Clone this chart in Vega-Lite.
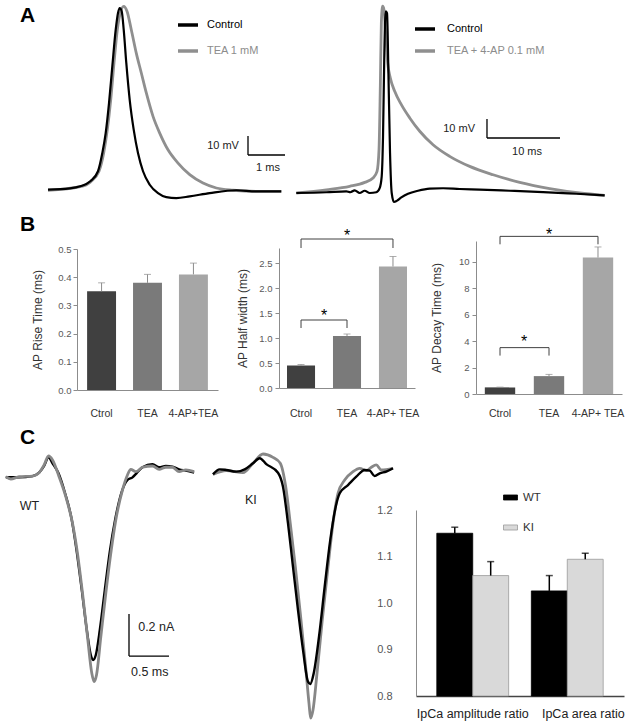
{
"$schema": "https://vega.github.io/schema/vega-lite/v6.json",
"padding": 0,
"background": "white",
"config": {
  "view": {"stroke": null},
  "font": "Liberation Sans",
  "axis": {"grid": false, "labelFont": "Liberation Sans", "titleFont": "Liberation Sans", "labelOverlap": false},
  "legend": {"labelFont": "Liberation Sans"},
  "title": {"font": "Liberation Sans"},
  "text": {"font": "Liberation Sans"}
},
"datasets": {
  "a1": [
    {"cond":"Control","t":0,"v":-64.3},{"cond":"Control","t":0.586,"v":-63.6},{"cond":"Control","t":0.873,"v":-62.5},{"cond":"Control","t":1.143,"v":-59.9},{"cond":"Control","t":1.351,"v":-54.6},{"cond":"Control","t":1.468,"v":-45.0},{"cond":"Control","t":1.559,"v":-34.5},{"cond":"Control","t":1.649,"v":-18.7},{"cond":"Control","t":1.738,"v":0.6},{"cond":"Control","t":1.830,"v":19.9},{"cond":"Control","t":1.892,"v":28.7},{"cond":"Control","t":1.938,"v":31.3},{"cond":"Control","t":1.992,"v":29.6},{"cond":"Control","t":2.046,"v":19.9},{"cond":"Control","t":2.116,"v":2.4},{"cond":"Control","t":2.208,"v":-17.0},{"cond":"Control","t":2.316,"v":-32.7},{"cond":"Control","t":2.432,"v":-45.0},{"cond":"Control","t":2.568,"v":-54.6},{"cond":"Control","t":2.749,"v":-61.7},{"cond":"Control","t":2.973,"v":-66.1},{"cond":"Control","t":3.197,"v":-68.2},{"cond":"Control","t":3.468,"v":-68.7},{"cond":"Control","t":3.830,"v":-67.8},{"cond":"Control","t":4.370,"v":-66.1},{"cond":"Control","t":5.089,"v":-64.6},{"cond":"Control","t":5.630,"v":-65.2},{"cond":"Control","t":6.305,"v":-65.2},
    {"cond":"TEA 1 mM","t":0,"v":-64.6},{"cond":"TEA 1 mM","t":0.873,"v":-62.7},{"cond":"TEA 1 mM","t":1.143,"v":-60.3},{"cond":"TEA 1 mM","t":1.378,"v":-54.6},{"cond":"TEA 1 mM","t":1.505,"v":-45.0},{"cond":"TEA 1 mM","t":1.603,"v":-32.7},{"cond":"TEA 1 mM","t":1.695,"v":-17.0},{"cond":"TEA 1 mM","t":1.784,"v":2.4},{"cond":"TEA 1 mM","t":1.873,"v":19.9},{"cond":"TEA 1 mM","t":1.954,"v":28.7},{"cond":"TEA 1 mM","t":2.046,"v":32.2},{"cond":"TEA 1 mM","t":2.135,"v":29.6},{"cond":"TEA 1 mM","t":2.251,"v":19.9},{"cond":"TEA 1 mM","t":2.386,"v":7.6},{"cond":"TEA 1 mM","t":2.522,"v":-2.9},{"cond":"TEA 1 mM","t":2.657,"v":-13.4},{"cond":"TEA 1 mM","t":2.838,"v":-25.7},{"cond":"TEA 1 mM","t":3.019,"v":-34.5},{"cond":"TEA 1 mM","t":3.243,"v":-43.3},{"cond":"TEA 1 mM","t":3.514,"v":-50.3},{"cond":"TEA 1 mM","t":3.830,"v":-56.4},{"cond":"TEA 1 mM","t":4.189,"v":-60.8},{"cond":"TEA 1 mM","t":4.549,"v":-63.4},{"cond":"TEA 1 mM","t":5.0,"v":-64.6},{"cond":"TEA 1 mM","t":5.630,"v":-65.2},{"cond":"TEA 1 mM","t":6.305,"v":-65.2}
  ],
  "a2": [
    {"cond":"Control","t":0.04,"v":-65},{"cond":"Control","t":4.15,"v":-64.6},{"cond":"Control","t":6.89,"v":-64.1},{"cond":"Control","t":7.44,"v":-64.6},{"cond":"Control","t":8.04,"v":-63.6},{"cond":"Control","t":8.72,"v":-65},{"cond":"Control","t":9.41,"v":-63.8},{"cond":"Control","t":10.10,"v":-65},{"cond":"Control","t":11.0,"v":-64.6},{"cond":"Control","t":11.46,"v":-62.4},{"cond":"Control","t":11.74,"v":-56.2},{"cond":"Control","t":11.92,"v":-35.2},{"cond":"Control","t":12.10,"v":8.7},{"cond":"Control","t":12.28,"v":30.6},{"cond":"Control","t":12.47,"v":29.7},{"cond":"Control","t":12.65,"v":-0.1},{"cond":"Control","t":12.88,"v":-43.9},{"cond":"Control","t":13.11,"v":-65},{"cond":"Control","t":13.42,"v":-69.7},{"cond":"Control","t":13.84,"v":-69.0},{"cond":"Control","t":14.43,"v":-67.3},{"cond":"Control","t":15.34,"v":-65.4},{"cond":"Control","t":16.71,"v":-63.8},{"cond":"Control","t":18.32,"v":-62.7},{"cond":"Control","t":20.14,"v":-62.5},{"cond":"Control","t":22.42,"v":-62.9},{"cond":"Control","t":25.16,"v":-63.2},{"cond":"Control","t":29.27,"v":-63.8},{"cond":"Control","t":33.84,"v":-64.5},{"cond":"Control","t":38.40,"v":-65.4},{"cond":"Control","t":42.28,"v":-66.2},
    {"cond":"TEA + 4-AP 0.1 mM","t":0.04,"v":-65},{"cond":"TEA + 4-AP 0.1 mM","t":4.15,"v":-63.3},{"cond":"TEA + 4-AP 0.1 mM","t":7.35,"v":-61.5},{"cond":"TEA + 4-AP 0.1 mM","t":9.41,"v":-59.4},{"cond":"TEA + 4-AP 0.1 mM","t":10.55,"v":-57.1},{"cond":"TEA + 4-AP 0.1 mM","t":11.10,"v":-53.6},{"cond":"TEA + 4-AP 0.1 mM","t":11.37,"v":-42.2},{"cond":"TEA + 4-AP 0.1 mM","t":11.55,"v":-8.8},{"cond":"TEA + 4-AP 0.1 mM","t":11.69,"v":24.5},{"cond":"TEA + 4-AP 0.1 mM","t":11.87,"v":33.3},{"cond":"TEA + 4-AP 0.1 mM","t":12.05,"v":31.5},{"cond":"TEA + 4-AP 0.1 mM","t":12.28,"v":19.2},{"cond":"TEA + 4-AP 0.1 mM","t":12.56,"v":3.4},{"cond":"TEA + 4-AP 0.1 mM","t":12.92,"v":-4.5},{"cond":"TEA + 4-AP 0.1 mM","t":13.52,"v":-11.5},{"cond":"TEA + 4-AP 0.1 mM","t":14.43,"v":-18.5},{"cond":"TEA + 4-AP 0.1 mM","t":15.58,"v":-25.5},{"cond":"TEA + 4-AP 0.1 mM","t":16.95,"v":-32.5},{"cond":"TEA + 4-AP 0.1 mM","t":18.77,"v":-39.6},{"cond":"TEA + 4-AP 0.1 mM","t":21.05,"v":-45.7},{"cond":"TEA + 4-AP 0.1 mM","t":23.79,"v":-51.0},{"cond":"TEA + 4-AP 0.1 mM","t":27.0,"v":-55.4},{"cond":"TEA + 4-AP 0.1 mM","t":30.64,"v":-59.4},{"cond":"TEA + 4-AP 0.1 mM","t":34.75,"v":-62.7},{"cond":"TEA + 4-AP 0.1 mM","t":38.86,"v":-65},{"cond":"TEA + 4-AP 0.1 mM","t":42.28,"v":-66.2}
  ],
  "c1": [
    {"g":"gray","t":0,"i":0},{"g":"gray","t":0.0625,"i":-0.011},{"g":"gray","t":0.166,"i":0},{"g":"gray","t":0.334,"i":0.003},{"g":"gray","t":0.416,"i":0.019},{"g":"gray","t":0.479,"i":0.056},{"g":"gray","t":0.534,"i":0.099},{"g":"gray","t":0.584,"i":0.080},{"g":"gray","t":0.666,"i":0},{"g":"gray","t":0.75,"i":-0.095},{"g":"gray","t":0.834,"i":-0.222},{"g":"gray","t":0.896,"i":-0.365},{"g":"gray","t":0.959,"i":-0.555},{"g":"gray","t":1.021,"i":-0.762},{"g":"gray","t":1.075,"i":-0.936},{"g":"gray","t":1.104,"i":-0.976},{"g":"gray","t":1.134,"i":-0.944},{"g":"gray","t":1.188,"i":-0.762},{"g":"gray","t":1.25,"i":-0.555},{"g":"gray","t":1.3125,"i":-0.365},{"g":"gray","t":1.375,"i":-0.206},{"g":"gray","t":1.459,"i":-0.063},{"g":"gray","t":1.521,"i":0.008},{"g":"gray","t":1.5625,"i":0.035},{"g":"gray","t":1.625,"i":0.024},{"g":"gray","t":1.709,"i":0.045},{"g":"gray","t":1.834,"i":0.051},{"g":"gray","t":1.916,"i":0.035},{"g":"gray","t":2.0,"i":0.045},{"g":"gray","t":2.084,"i":0.045},{"g":"gray","t":2.166,"i":0.024},{"g":"gray","t":2.25,"i":0.032},{"g":"gray","t":2.354,"i":0.024},
    {"g":"black","t":0,"i":-0.003},{"g":"black","t":0.166,"i":-0.003},{"g":"black","t":0.334,"i":0.003},{"g":"black","t":0.416,"i":0.019},{"g":"black","t":0.479,"i":0.051},{"g":"black","t":0.534,"i":0.092},{"g":"black","t":0.584,"i":0.064},{"g":"black","t":0.659,"i":0.016},{"g":"black","t":0.741,"i":-0.079},{"g":"black","t":0.825,"i":-0.206},{"g":"black","t":0.884,"i":-0.349},{"g":"black","t":0.95,"i":-0.540},{"g":"black","t":1.0125,"i":-0.730},{"g":"black","t":1.0625,"i":-0.849},{"g":"black","t":1.091,"i":-0.873},{"g":"black","t":1.125,"i":-0.849},{"g":"black","t":1.175,"i":-0.730},{"g":"black","t":1.2375,"i":-0.540},{"g":"black","t":1.3,"i":-0.357},{"g":"black","t":1.366,"i":-0.206},{"g":"black","t":1.45,"i":-0.071},{"g":"black","t":1.521,"i":-0.016},{"g":"black","t":1.584,"i":-0.003},{"g":"black","t":1.634,"i":0.016},{"g":"black","t":1.709,"i":0.045},{"g":"black","t":1.834,"i":0.060},{"g":"black","t":1.916,"i":0.045},{"g":"black","t":2.0,"i":0.051},{"g":"black","t":2.084,"i":0.048},{"g":"black","t":2.166,"i":0.035},{"g":"black","t":2.25,"i":0.029},{"g":"black","t":2.354,"i":0.019}
  ],
  "c2": [
    {"g":"black","t":0,"i":0.011},{"g":"black","t":0.084,"i":0.035},{"g":"black","t":0.166,"i":0.032},{"g":"black","t":0.291,"i":0.024},{"g":"black","t":0.396,"i":0.035},{"g":"black","t":0.5,"i":0.064},{"g":"black","t":0.584,"i":0.088},{"g":"black","t":0.666,"i":0.060},{"g":"black","t":0.8125,"i":0.019},{"g":"black","t":0.875,"i":-0.048},{"g":"black","t":0.9375,"i":-0.222},{"g":"black","t":1.0,"i":-0.429},{"g":"black","t":1.0625,"i":-0.635},{"g":"black","t":1.125,"i":-0.825},{"g":"black","t":1.1875,"i":-0.976},{"g":"black","t":1.216,"i":-0.987},{"g":"black","t":1.259,"i":-0.936},{"g":"black","t":1.325,"i":-0.762},{"g":"black","t":1.396,"i":-0.524},{"g":"black","t":1.466,"i":-0.301},{"g":"black","t":1.534,"i":-0.143},{"g":"black","t":1.584,"i":-0.079},{"g":"black","t":1.6875,"i":-0.040},{"g":"black","t":1.791,"i":0},{"g":"black","t":1.896,"i":0.032},{"g":"black","t":1.959,"i":0.029},{"g":"black","t":2.021,"i":0.003},{"g":"black","t":2.084,"i":0.016},{"g":"black","t":2.166,"i":0.024},{"g":"black","t":2.25,"i":0.040},
    {"g":"gray","t":0,"i":0.011},{"g":"gray","t":0.166,"i":0.029},{"g":"gray","t":0.375,"i":0.019},{"g":"gray","t":0.5,"i":0.064},{"g":"gray","t":0.625,"i":0.108},{"g":"gray","t":0.75,"i":0.092},{"g":"gray","t":0.841,"i":0.064},{"g":"gray","t":0.909,"i":-0.048},{"g":"gray","t":0.966,"i":-0.222},{"g":"gray","t":1.029,"i":-0.429},{"g":"gray","t":1.091,"i":-0.650},{"g":"gray","t":1.154,"i":-0.889},{"g":"gray","t":1.2,"i":-1.079},{"g":"gray","t":1.221,"i":-1.150},{"g":"gray","t":1.25,"i":-1.111},{"g":"gray","t":1.3,"i":-0.936},{"g":"gray","t":1.366,"i":-0.682},{"g":"gray","t":1.4375,"i":-0.429},{"g":"gray","t":1.5,"i":-0.222},{"g":"gray","t":1.5625,"i":-0.079},{"g":"gray","t":1.646,"i":-0.016},{"g":"gray","t":1.75,"i":0.024},{"g":"gray","t":1.834,"i":0.040},{"g":"gray","t":1.916,"i":0.029},{"g":"gray","t":1.979,"i":0.045},{"g":"gray","t":2.041,"i":0.056},{"g":"gray","t":2.104,"i":0.032},{"g":"gray","t":2.25,"i":0.040}
  ]
},
"spacing": 7,
"resolve": {"scale": {"color": "independent", "stroke": "independent"}, "legend": {"color": "independent"}},
"vconcat": [
  {
    "hconcat": [
      {
        "width": 285, "height": 196,
        "title": {"text": "A", "anchor": "start", "frame": "group", "fontSize": 21, "fontWeight": "bold", "baseline": "alphabetic", "offset": -42, "dx": 17, "color": "#000"},
        "encoding": {
          "x": {"field": "t", "type": "quantitative", "scale": {"domain": [-1.216, 6.486], "nice": false, "zero": false}, "axis": null},
          "y": {"field": "v", "type": "quantitative", "scale": {"domain": [-69.2, 33.95], "nice": false, "zero": false}, "axis": null}
        },
        "layer": [
          {"data": {"name": "a1"}, "transform": [{"filter": "datum.cond !== 'Control'"}],
           "mark": {"type": "line", "strokeWidth": 2.8, "interpolate": "monotone"},
           "encoding": {"color": {"field": "cond", "type": "nominal", "scale": {"domain": ["Control", "TEA 1 mM"], "range": ["#000000", "#8f8f8f"]},
             "legend": {"orient": "none", "legendX": 173, "legendY": 10, "title": null, "symbolType": "stroke", "symbolSize": 400, "symbolStrokeWidth": 3.5, "labelFontSize": 11, "labelOffset": 7, "rowPadding": 7, "padding": 0,
               "encode": {"labels": {"update": {"fill": {"signal": "datum.value === 'Control' ? '#000000' : '#8c8c8c'"}}}}}}}},
          {"data": {"name": "a1"}, "transform": [{"filter": "datum.cond === 'Control'"}],
           "mark": {"type": "line", "strokeWidth": 2.2, "interpolate": "monotone"},
           "encoding": {"color": {"field": "cond", "type": "nominal", "scale": {"domain": ["Control", "TEA 1 mM"], "range": ["#000000", "#8f8f8f"]},
             "legend": {"orient": "none", "legendX": 173, "legendY": 10, "title": null, "symbolType": "stroke", "symbolSize": 400, "symbolStrokeWidth": 3.5, "labelFontSize": 11, "labelOffset": 7, "rowPadding": 7, "padding": 0,
               "encode": {"labels": {"update": {"fill": {"signal": "datum.value === 'Control' ? '#000000' : '#8c8c8c'"}}}}}}}},
          {"data": {"values": [{"t": 5.405, "v": -46.05, "t2": 5.405, "v2": -36.05}, {"t": 5.405, "v": -46.05, "t2": 6.405, "v2": -46.05}]},
           "mark": {"type": "rule", "color": "#000", "strokeWidth": 1.3},
           "encoding": {"x2": {"field": "t2"}, "y2": {"field": "v2"}}},
          {"data": {"values": [{"t": 5.16, "v": -41.3, "s": "10 mV"}]},
           "mark": {"type": "text", "align": "right", "baseline": "middle", "fontSize": 11, "color": "#222"},
           "encoding": {"text": {"field": "s"}}},
          {"data": {"values": [{"t": 5.946, "v": -52.9, "s": "1 ms"}]},
           "mark": {"type": "text", "align": "center", "baseline": "middle", "fontSize": 11, "color": "#222"},
           "encoding": {"text": {"field": "s"}}}
        ]
      },
      {
        "width": 332, "height": 200,
        "encoding": {
          "x": {"field": "t", "type": "quantitative", "scale": {"domain": [-0.685, 44.79], "nice": false, "zero": false}, "axis": null},
          "y": {"field": "v", "type": "quantitative", "scale": {"domain": [-70.26, 35], "nice": false, "zero": false}, "axis": null}
        },
        "layer": [
          {"data": {"name": "a2"}, "transform": [{"filter": "datum.cond !== 'Control'"}],
           "mark": {"type": "line", "strokeWidth": 2.8, "interpolate": "monotone"},
           "encoding": {"color": {"field": "cond", "type": "nominal", "scale": {"domain": ["Control", "TEA + 4-AP 0.1 mM"], "range": ["#000000", "#8f8f8f"]},
             "legend": {"orient": "none", "legendX": 122, "legendY": 14, "title": null, "symbolType": "stroke", "symbolSize": 400, "symbolStrokeWidth": 3.5, "labelFontSize": 11, "labelOffset": 10, "rowPadding": 3, "padding": 0,
               "encode": {"labels": {"update": {"fill": {"signal": "datum.value === 'Control' ? '#000000' : '#8c8c8c'"}}}}}}}},
          {"data": {"name": "a2"}, "transform": [{"filter": "datum.cond === 'Control'"}],
           "mark": {"type": "line", "strokeWidth": 2.2, "interpolate": "monotone"},
           "encoding": {"color": {"field": "cond", "type": "nominal", "scale": {"domain": ["Control", "TEA + 4-AP 0.1 mM"], "range": ["#000000", "#8f8f8f"]},
             "legend": {"orient": "none", "legendX": 122, "legendY": 14, "title": null, "symbolType": "stroke", "symbolSize": 400, "symbolStrokeWidth": 3.5, "labelFontSize": 11, "labelOffset": 10, "rowPadding": 3, "padding": 0,
               "encode": {"labels": {"update": {"fill": {"signal": "datum.value === 'Control' ? '#000000' : '#8c8c8c'"}}}}}}}},
          {"data": {"values": [{"t": 26.16, "v": -36.05, "t2": 26.16, "v2": -26.05}, {"t": 26.16, "v": -36.05, "t2": 36.16, "v2": -36.05}]},
           "mark": {"type": "rule", "color": "#000", "strokeWidth": 1.3},
           "encoding": {"x2": {"field": "t2"}, "y2": {"field": "v2"}}},
          {"data": {"values": [{"t": 24.52, "v": -31.3, "s": "10 mV"}]},
           "mark": {"type": "text", "align": "right", "baseline": "middle", "fontSize": 11, "color": "#222"},
           "encoding": {"text": {"field": "s"}}},
          {"data": {"values": [{"t": 31.64, "v": -43.4, "s": "10 ms"}]},
           "mark": {"type": "text", "align": "center", "baseline": "middle", "fontSize": 11, "color": "#222"},
           "encoding": {"text": {"field": "s"}}}
        ]
      }
    ],
    "spacing": 3,
    "bounds": "flush",
    "resolve": {"scale": {"color": "independent", "stroke": "independent"}, "legend": {"color": "independent"}}
  },
  {
    "vconcat": [
      {
        "hconcat": [
          {"width": 13, "height": 10, "data": {"values": []}, "mark": "point"},
          {
            "width": 141, "height": 149,
            "title": {"text": "B", "anchor": "start", "frame": "group", "fontSize": 21, "fontWeight": "bold", "baseline": "alphabetic", "offset": -11, "dx": -57, "color": "#000"},
            "encoding": {
              "x": {"field": "cond", "type": "nominal", "scale": {"domain": ["Ctrol", "TEA", "4-AP+TEA"], "paddingInner": 0.37, "paddingOuter": 0.22},
                    "axis": {"title": null, "labelAngle": 0, "ticks": false, "labelPadding": 18, "labelFontSize": 10.5, "labelColor": "#333", "domainColor": "#8c8c8c"}},
              "y": {"field": "y", "type": "quantitative", "scale": {"domain": [0, 0.5], "range": [149, 8], "nice": false},
                    "axis": {"title": "AP Rise Time (ms)", "tickCount": 5, "format": ".1f", "labelOverlap": false, "tickSize": 4, "labelPadding": 2, "titlePadding": 13, "titleFontSize": 12, "titleFontWeight": "normal", "titleColor": "#333", "labelColor": "#595959", "labelFontSize": 9.5, "domainColor": "#8c8c8c", "tickColor": "#8c8c8c"}}
            },
            "layer": [
              {"data": {"values": [{"cond": "Ctrol", "y": 0.35}, {"cond": "TEA", "y": 0.38}, {"cond": "4-AP+TEA", "y": 0.41}]},
               "mark": {"type": "bar"},
               "encoding": {"color": {"field": "cond", "type": "nominal", "scale": {"domain": ["Ctrol", "TEA", "4-AP+TEA"], "range": ["#404040", "#7a7a7a", "#a6a6a6"]}, "legend": null}}},
              {"data": {"values": [{"cond": "Ctrol", "y": 0.38, "lo": 0.35}, {"cond": "TEA", "y": 0.41, "lo": 0.38}, {"cond": "4-AP+TEA", "y": 0.45, "lo": 0.41}]},
               "layer": [
                 {"mark": {"type": "rule", "color": "#8c8c8c", "strokeWidth": 1}, "encoding": {"y2": {"field": "lo"}}},
                 {"mark": {"type": "tick", "color": "#8c8c8c", "thickness": 1, "size": 7}}
               ]}
            ]
          },
          {
            "width": 136, "height": 147,
            "encoding": {
              "x": {"field": "cond", "type": "nominal", "scale": {"domain": ["Ctrol", "TEA", "4-AP+ TEA"], "paddingInner": 0.39, "paddingOuter": 0.174},
                    "axis": {"title": null, "labelAngle": 0, "ticks": false, "labelPadding": 20, "labelFontSize": 10.5, "labelColor": "#333", "domainColor": "#8c8c8c"}},
              "y": {"field": "y", "type": "quantitative", "scale": {"domain": [0, 2.8], "range": [147, 7], "nice": false},
                    "axis": {"title": "AP Half width (ms)", "values": [0, 0.5, 1, 1.5, 2, 2.5], "format": ".1f", "labelOverlap": false, "tickSize": 4, "labelPadding": 3, "titlePadding": 9, "titleFontSize": 12, "titleFontWeight": "normal", "titleColor": "#333", "labelColor": "#595959", "labelFontSize": 9.5, "domainColor": "#8c8c8c", "tickColor": "#8c8c8c"}}
            },
            "layer": [
              {"data": {"values": [{"cond": "Ctrol", "y": 0.45}, {"cond": "TEA", "y": 1.04}, {"cond": "4-AP+ TEA", "y": 2.43}]},
               "mark": {"type": "bar"},
               "encoding": {"color": {"field": "cond", "type": "nominal", "scale": {"domain": ["Ctrol", "TEA", "4-AP+ TEA"], "range": ["#404040", "#7a7a7a", "#a6a6a6"]}, "legend": null}}},
              {"data": {"values": [{"cond": "Ctrol", "y": 0.47, "lo": 0.45}, {"cond": "TEA", "y": 1.08, "lo": 1.04}, {"cond": "4-AP+ TEA", "y": 2.63, "lo": 2.43}]},
               "layer": [
                 {"mark": {"type": "rule", "color": "#8c8c8c", "strokeWidth": 1}, "encoding": {"y2": {"field": "lo"}}},
                 {"mark": {"type": "tick", "color": "#8c8c8c", "thickness": 1, "size": 7}}
               ]},
              {"data": {"values": [{"cond": "Ctrol", "cond2": "4-AP+ TEA", "y": 2.98, "lo": 2.8}, {"cond": "Ctrol", "cond2": "TEA", "y": 1.36, "lo": 1.2}]},
               "layer": [
                 {"mark": {"type": "rule", "color": "#404040", "strokeWidth": 1}, "encoding": {"x2": {"field": "cond2"}}},
                 {"transform": [{"fold": ["cond", "cond2"], "as": ["end", "cond"]}],
                  "mark": {"type": "rule", "color": "#404040", "strokeWidth": 1}, "encoding": {"y2": {"field": "lo"}}}
               ]},
              {"data": {"values": [{"s": "*", "cond": "TEA", "y": 3.05}]},
               "mark": {"type": "text", "fontSize": 16, "baseline": "middle", "color": "#000"},
               "encoding": {"text": {"field": "s"}}},
              {"data": {"values": [{"s": "*", "cond": "Ctrol", "y": 1.45}]},
               "mark": {"type": "text", "fontSize": 16, "baseline": "middle", "color": "#000", "dx": 23},
               "encoding": {"text": {"field": "s"}}}
            ]
          },
          {
            "width": 146, "height": 153,
            "encoding": {
              "x": {"field": "cond", "type": "nominal", "scale": {"domain": ["Ctrol", "TEA", "4-AP+ TEA"], "paddingInner": 0.38, "paddingOuter": 0.18},
                    "axis": {"title": null, "labelAngle": 0, "ticks": false, "labelPadding": 14, "labelFontSize": 10.5, "labelColor": "#333", "domainColor": "#8c8c8c"}},
              "y": {"field": "y", "type": "quantitative", "scale": {"domain": [0, 11.55], "nice": false},
                    "axis": {"title": "AP Decay Time (ms)", "values": [0, 2, 4, 6, 8, 10], "format": "d", "labelOverlap": false, "tickSize": 4, "labelPadding": 3, "titlePadding": 15, "titleFontSize": 12, "titleFontWeight": "normal", "titleColor": "#333", "labelColor": "#595959", "labelFontSize": 9.5, "domainColor": "#8c8c8c", "tickColor": "#8c8c8c"}}
            },
            "layer": [
              {"data": {"values": [{"cond": "Ctrol", "y": 0.5}, {"cond": "TEA", "y": 1.35}, {"cond": "4-AP+ TEA", "y": 10.3}]},
               "mark": {"type": "bar"},
               "encoding": {"color": {"field": "cond", "type": "nominal", "scale": {"domain": ["Ctrol", "TEA", "4-AP+ TEA"], "range": ["#404040", "#7a7a7a", "#a6a6a6"]}, "legend": null}}},
              {"data": {"values": [{"cond": "Ctrol", "y": 0.52, "lo": 0.5}, {"cond": "TEA", "y": 1.48, "lo": 1.35}, {"cond": "4-AP+ TEA", "y": 11.1, "lo": 10.3}]},
               "layer": [
                 {"mark": {"type": "rule", "color": "#8c8c8c", "strokeWidth": 1}, "encoding": {"y2": {"field": "lo"}}},
                 {"mark": {"type": "tick", "color": "#8c8c8c", "thickness": 1, "size": 7}}
               ]},
              {"data": {"values": [{"cond": "Ctrol", "cond2": "4-AP+ TEA", "y": 11.9, "lo": 11.3}, {"cond": "Ctrol", "cond2": "TEA", "y": 3.5, "lo": 2.9}]},
               "layer": [
                 {"mark": {"type": "rule", "color": "#404040", "strokeWidth": 1}, "encoding": {"x2": {"field": "cond2"}}},
                 {"transform": [{"fold": ["cond", "cond2"], "as": ["end", "cond"]}],
                  "mark": {"type": "rule", "color": "#404040", "strokeWidth": 1}, "encoding": {"y2": {"field": "lo"}}}
               ]},
              {"data": {"values": [{"s": "*", "cond": "TEA", "y": 12.0}]},
               "mark": {"type": "text", "fontSize": 16, "baseline": "middle", "color": "#000"},
               "encoding": {"text": {"field": "s"}}},
              {"data": {"values": [{"s": "*", "cond": "Ctrol", "y": 3.9}]},
               "mark": {"type": "text", "fontSize": 16, "baseline": "middle", "color": "#000", "dx": 24},
               "encoding": {"text": {"field": "s"}}}
            ]
          }
        ],
        "spacing": 61,
        "bounds": "flush",
        "resolve": {"scale": {"color": "independent", "stroke": "independent"}, "legend": {"color": "independent"}}
      },
      {
        "hconcat": [
          {
            "width": 190, "height": 265,
            "title": {"text": "C", "anchor": "start", "frame": "group", "fontSize": 21, "fontWeight": "bold", "baseline": "alphabetic", "offset": -15, "dx": 17, "color": "#000"},
            "encoding": {
              "x": {"field": "t", "type": "quantitative", "scale": {"domain": [-0.035, 2.34], "nice": false, "zero": false}, "axis": null},
              "y": {"field": "i", "type": "quantitative", "scale": {"domain": [-1.1586, 0.1033], "nice": false, "zero": false}, "axis": null}
            },
            "layer": [
              {"data": {"name": "c1"}, "transform": [{"filter": "datum.g === 'black'"}], "mark": {"type": "line", "color": "#000000", "strokeWidth": 2.4, "interpolate": "monotone"}, "encoding": {}},
              {"data": {"name": "c1"}, "transform": [{"filter": "datum.g === 'gray'"}], "mark": {"type": "line", "color": "#878787", "strokeWidth": 2.8, "interpolate": "monotone"}, "encoding": {}},
              {"data": {"values": [{"t": 1.54, "i": -0.854, "t2": 1.54, "i2": -0.654}, {"t": 1.54, "i": -0.854, "t2": 2.04, "i2": -0.854}]},
               "mark": {"type": "rule", "color": "#000", "strokeWidth": 1.3},
               "encoding": {"x2": {"field": "t2"}, "y2": {"field": "i2"}}},
              {"data": {"values": [{"t": 1.655, "i": -0.716, "s": "0.2 nA"}, {"t": 1.565, "i": -0.93, "s": "0.5 ms"}, {"t": 0.175, "i": -0.14, "s": "WT"}]},
               "mark": {"type": "text", "align": "left", "baseline": "middle", "fontSize": 12.5, "color": "#222"},
               "encoding": {"text": {"field": "s"}}}
            ]
          },
          {
            "width": 183, "height": 265,
            "encoding": {
              "x": {"field": "t", "type": "quantitative", "scale": {"domain": [0, 2.2875], "nice": false, "zero": false}, "axis": null},
              "y": {"field": "i", "type": "quantitative", "scale": {"domain": [-1.1586, 0.1033], "nice": false, "zero": false}, "axis": null}
            },
            "layer": [
              {"data": {"name": "c2"}, "transform": [{"filter": "datum.g === 'gray'"}], "mark": {"type": "line", "color": "#878787", "strokeWidth": 2.8, "interpolate": "monotone"}, "encoding": {}},
              {"data": {"name": "c2"}, "transform": [{"filter": "datum.g === 'black'"}], "mark": {"type": "line", "color": "#000000", "strokeWidth": 2.4, "interpolate": "monotone"}, "encoding": {}},
              {"data": {"values": [{"t": 0.4, "i": -0.111, "s": "KI"}]},
               "mark": {"type": "text", "align": "left", "baseline": "middle", "fontSize": 12.5, "color": "#222"},
               "encoding": {"text": {"field": "s"}}}
            ]
          },
          {
            "width": 208, "height": 241,
            "encoding": {
              "x": {"field": "param", "type": "nominal", "scale": {"domain": ["IpCa amplitude ratio", "IpCa area ratio"], "paddingInner": 0.24, "paddingOuter": 0.22},
                    "axis": {"title": null, "labelAngle": 0, "ticks": false, "labelPadding": 11, "labelFontSize": 12.5, "labelColor": "#222", "domainColor": "#444", "domainWidth": 1.5,
                      "labelOffset": {"condition": {"test": "datum.value === 'IpCa area ratio'", "value": 16}, "value": 0}}},
              "xOffset": {"field": "geno", "type": "nominal", "scale": {"domain": ["WT", "KI"], "paddingInner": 0, "paddingOuter": 0}},
              "y": {"field": "y", "type": "quantitative", "scale": {"domain": [0.8, 1.2], "range": [241, 55], "nice": false, "zero": false},
                    "axis": {"title": null, "values": [0.8, 0.9, 1.0, 1.1, 1.2], "format": ".1f", "labelOverlap": false, "ticks": false, "labelPadding": 24, "labelColor": "#555", "labelFontSize": 11, "domainColor": "#8c8c8c"}}
            },
            "layer": [
              {"data": {"values": [
                 {"param": "IpCa amplitude ratio", "geno": "WT", "y": 1.150},
                 {"param": "IpCa amplitude ratio", "geno": "KI", "y": 1.059},
                 {"param": "IpCa area ratio", "geno": "WT", "y": 1.026},
                 {"param": "IpCa area ratio", "geno": "KI", "y": 1.094}]},
               "mark": {"type": "bar", "strokeWidth": 0.8},
               "encoding": {
                 "y2": {"datum": 0.8},
                 "color": {"field": "geno", "type": "nominal", "scale": {"domain": ["WT", "KI"], "range": ["#000000", "#d9d9d9"]},
                   "legend": {"orient": "none", "legendX": 87, "legendY": 35, "title": null, "symbolType": "M-1,-0.36H1V0.36H-1Z", "symbolSize": 196, "symbolStrokeColor": "#9a9a9a", "symbolStrokeWidth": 0.8, "labelFontSize": 11.5, "labelColor": "#333", "labelOffset": 5, "rowPadding": 17, "padding": 0}},
                 "stroke": {"field": "geno", "type": "nominal", "scale": {"domain": ["WT", "KI"], "range": ["#000000", "#9a9a9a"]}, "legend": null}}},
              {"data": {"values": [
                 {"param": "IpCa amplitude ratio", "geno": "WT", "y": 1.163, "lo": 1.150},
                 {"param": "IpCa amplitude ratio", "geno": "KI", "y": 1.089, "lo": 1.059},
                 {"param": "IpCa area ratio", "geno": "WT", "y": 1.059, "lo": 1.026},
                 {"param": "IpCa area ratio", "geno": "KI", "y": 1.107, "lo": 1.094}]},
               "layer": [
                 {"mark": {"type": "rule", "color": "#000", "strokeWidth": 1.5}, "encoding": {"y2": {"field": "lo"}}},
                 {"mark": {"type": "tick", "color": "#000", "thickness": 1.5, "size": 7}}
               ]}
            ]
          }
        ],
        "spacing": 20,
        "bounds": "flush",
        "resolve": {"scale": {"color": "independent", "stroke": "independent"}, "legend": {"color": "independent"}}
      }
    ],
    "spacing": 8,
    "resolve": {"scale": {"color": "independent", "stroke": "independent"}, "legend": {"color": "independent"}}
  }
]
}
